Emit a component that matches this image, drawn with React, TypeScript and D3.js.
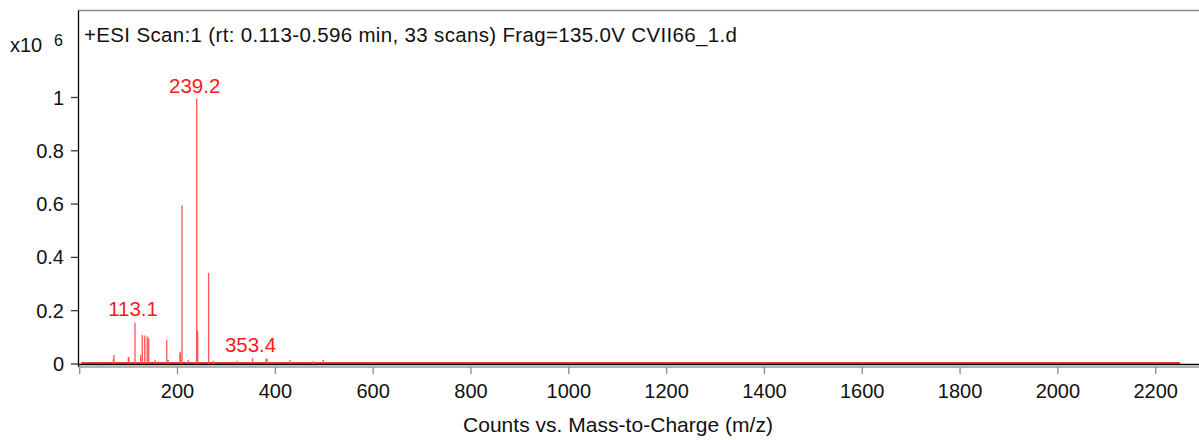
import React from "react";
import * as d3 from "d3";

// m/z of each peak (x-axis values)
const peakMz: number[] = [
  41.5, 56, 69, 70, 99.4, 100.5, 113.1, 124.8, 128, 133, 138, 141, 154, 160,
  178, 181, 205, 206, 209.1, 222, 239.2, 240.2, 241.2, 263.5, 273, 321, 322,
  353.4, 381, 383, 430, 476, 478, 498,
];
// intensity of each peak (x10^6 counts)
const peakCounts: number[] = [
  0.006, 0.004, 0.02, 0.034, 0.025, 0.027, 0.156, 0.034, 0.109, 0.107, 0.103,
  0.097, 0.015, 0.01, 0.09, 0.015, 0.046, 0.04, 0.596, 0.015, 0.995, 0.128,
  0.12, 0.342, 0.012, 0.01, 0.01, 0.022, 0.02, 0.02, 0.015, 0.01, 0.01, 0.015,
];
// annotated peaks
const labelMz: number[] = [113.1, 239.2, 353.4];
const labelText: string[] = ["113.1", "239.2", "353.4"];
const labelCounts: number[] = [0.156, 0.995, 0.022];

const xTicks: number[] = [0, 200, 400, 600, 800, 1000, 1200, 1400, 1600, 1800, 2000, 2200];
const xTickLabels: string[] = ["", "200", "400", "600", "800", "1000", "1200", "1400", "1600", "1800", "2000", "2200"];
const yTicks: number[] = [0, 0.2, 0.4, 0.6, 0.8, 1];
const yTickLabels: string[] = ["0", "0.2", "0.4", "0.6", "0.8", "1"];

const scanRange: number[] = [3, 2250];

const titleText = "+ESI Scan:1 (rt: 0.113-0.596 min, 33 scans) Frag=135.0V CVII66_1.d";
const xAxisTitle = "Counts vs. Mass-to-Charge (m/z)";

const W = 1199;
const H = 440;
const FONT = "'Liberation Sans', Arial, sans-serif";

export default function App() {
  const x = d3.scaleLinear().domain([0, 2200]).range([79.7, 1155.7]);
  const y = d3.scaleLinear().domain([0, 1]).range([364, 97.5]);

  const left = 78.5;
  const top = 10.5;
  const frameBottom = 364.5;
  const axisY = 367;

  return (
    <svg
      width={W}
      height={H}
      style={{ position: "absolute", left: 0, top: 0, background: "#fff" }}
      fontFamily={FONT}
    >
      <rect x={0} y={0} width={W} height={H} fill="#fff" />
      {/* frame */}
      <line x1={left} x2={W} y1={top} y2={top} stroke="#8c8c8c" strokeWidth={1.5} />
      {/* red baseline of the spectrum */}
      <line
        x1={x(scanRange[0])}
        x2={x(scanRange[1])}
        y1={y(0) - 1}
        y2={y(0) - 1}
        stroke="#e00000"
        strokeWidth={1.3}
      />
      {/* peaks */}
      {peakMz.map((m, i) => (
        <line
          key={i}
          x1={x(m)}
          x2={x(m)}
          y1={y(0)}
          y2={y(peakCounts[i])}
          stroke="#ff5555"
          strokeWidth={1.3}
        />
      ))}
      <line x1={left} x2={W} y1={frameBottom} y2={frameBottom} stroke="#000" strokeWidth={1.3} />
      <line x1={left} x2={left} y1={top} y2={axisY} stroke="#000" strokeWidth={1.3} />
      {/* x axis */}
      <line x1={left} x2={W} y1={axisY} y2={axisY} stroke="#9a9a9a" strokeWidth={1.3} />
      {xTicks.map((t, i) => (
        <g key={t}>
          <line x1={x(t)} x2={x(t)} y1={axisY} y2={axisY + 7} stroke="#8a8a8a" strokeWidth={1.3} />
          <text x={x(t)} y={398} textAnchor="middle" fontSize={20} fill="#111">
            {xTickLabels[i]}
          </text>
        </g>
      ))}
      {/* y axis */}
      {yTicks.map((t, i) => (
        <g key={t}>
          <line x1={71} x2={left} y1={y(t)} y2={y(t)} stroke="#333" strokeWidth={1.3} />
          <text x={64} y={y(t) + 7} textAnchor="end" fontSize={20} fill="#111">
            {yTickLabels[i]}
          </text>
        </g>
      ))}
      <text x={10} y={52} fontSize={20} fill="#111">x10</text>
      <text x={54} y={46} fontSize={16} fill="#111">6</text>
      {/* title */}
      <text x={84} y={42} fontSize={20.5} fill="#111" textLength={653} lengthAdjust="spacing">
        {titleText}
      </text>
      {/* peak labels */}
      {labelMz.map((m, i) => (
        <text
          key={m}
          x={x(m) - 2}
          y={y(labelCounts[i]) - 6}
          textAnchor="middle"
          fontSize={20.5}
          fill="#ff1a1a"
        >
          {labelText[i]}
        </text>
      ))}
      <text
        x={463}
        y={432}
        fontSize={21}
        fill="#111"
        textLength={310}
        lengthAdjust="spacing"
      >
        {xAxisTitle}
      </text>
    </svg>
  );
}
